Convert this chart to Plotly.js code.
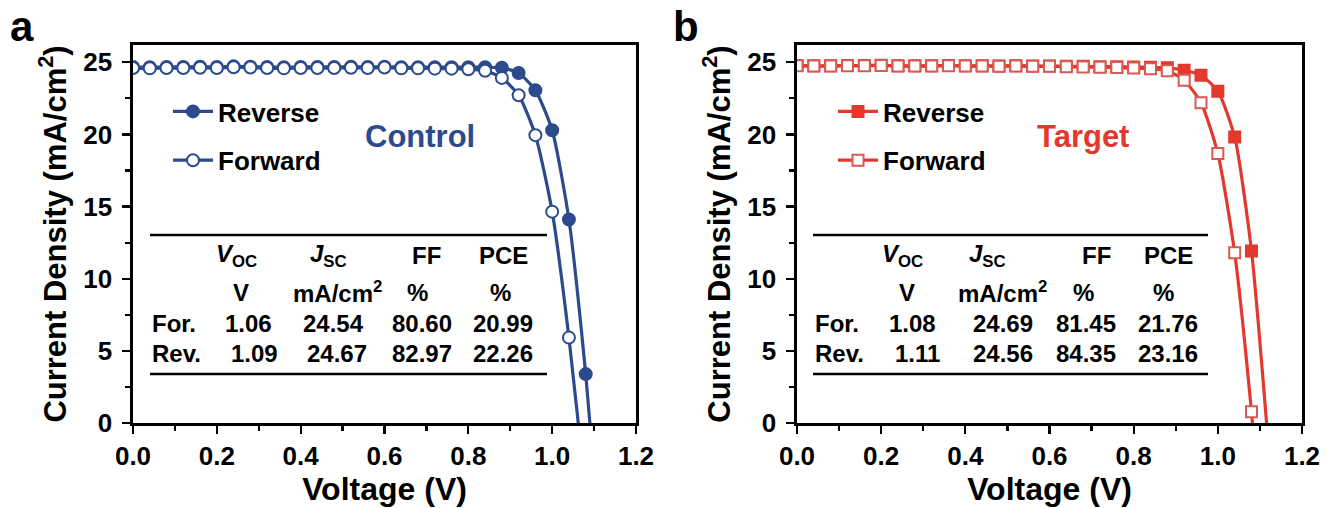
<!DOCTYPE html>
<html>
<head>
<meta charset="utf-8">
<script src="https://cdn.plot.ly/plotly-3.0.1.min.js"></script>
<style>html,body{margin:0;padding:0;background:#fff;}#chart{width:1333px;height:508px;}</style>
</head>
<body>
<div id="chart"></div>
<script>
// ---------- data ----------
const voltage = [0.00,0.04,0.08,0.12,0.16,0.20,0.24,0.28,0.32,0.36,0.40,0.44,0.48,0.52,0.56,0.60,0.64,0.68,0.72,0.76,0.80,0.84,0.88,0.92,0.96,1.00,1.04,1.08,1.12];
const controlReverse = [24.68,24.66,24.68,24.68,24.70,24.68,24.72,24.70,24.68,24.66,24.68,24.68,24.68,24.70,24.68,24.70,24.66,24.66,24.66,24.66,24.66,24.66,24.62,24.26,23.06,20.29,14.10,3.39,-10.2];
const controlForward = [24.60,24.58,24.60,24.60,24.62,24.60,24.66,24.64,24.60,24.58,24.60,24.60,24.60,24.62,24.60,24.64,24.58,24.58,24.56,24.56,24.52,24.42,23.92,22.72,19.95,14.65,5.92,-5.0,-18.0];
const targetReverse = [24.78,24.76,24.76,24.78,24.78,24.80,24.76,24.76,24.76,24.78,24.76,24.76,24.74,24.76,24.74,24.74,24.72,24.72,24.70,24.70,24.68,24.66,24.62,24.45,24.10,23.00,19.83,11.93,-1.5];
const targetForward = [24.76,24.74,24.74,24.76,24.76,24.78,24.74,24.74,24.74,24.76,24.74,24.74,24.72,24.74,24.72,24.72,24.70,24.68,24.66,24.64,24.60,24.55,24.42,23.75,22.20,18.68,11.80,0.78,-13.0];

const seriesNames = ["Reverse","Forward"];
const panelNames = ["Control","Target"];
const xTicks = [0.0,0.2,0.4,0.6,0.8,1.0,1.2];
const yTicks = [0,5,10,15,20,25];

const tableHeader = ["<i>V</i><sub>OC</sub>","<i>J</i><sub>SC</sub>","FF","PCE"];
const tableUnits = ["V","mA/cm<sup>2</sup>","%","%"];
const rowLabels = ["For.","Rev."];
const controlTable = [["1.06","24.54","80.60","20.99"],["1.09","24.67","82.97","22.26"]];
const targetTable = [["1.08","24.69","81.45","21.76"],["1.11","24.56","84.35","23.16"]];

// ---------- styles ----------
const BLUE = "#2b4b8c";
const RED = "#e2392f";
const RED_EDGE = "#d85a52";
const FONT = "Liberation Sans, Arial, sans-serif";
const W = 1333, H = 508;
const PX = x => x / W;
const PY = y => 1 - y / H;

function trace(y, name, color, edge, symbol, filled, xa, ya, legend, size) {
  return {
    x: voltage, y: y, name: name, type: "scatter", mode: "lines+markers",
    xaxis: xa, yaxis: ya, legend: legend,
    line: {color: color, width: 3.2, shape: "spline", smoothing: 0.6},
    marker: {symbol: symbol, size: size, color: filled ? color : "#ffffff",
             line: {color: edge, width: 2}},
    cliponaxis: true
  };
}

const data = [
  trace(controlReverse, seriesNames[0], BLUE, BLUE, "circle", true, "x", "y", "legend", 12),
  trace(controlForward, seriesNames[1], BLUE, BLUE, "circle", false, "x", "y", "legend", 12),
  trace(targetReverse, seriesNames[0], RED, RED, "square", true, "x2", "y2", "legend2", 11),
  trace(targetForward, seriesNames[1], RED, RED_EDGE, "square", false, "x2", "y2", "legend2", 11)
];
data[0].legendgroup = "a"; data[1].legendgroup = "b";
data[2].legendgroup = "c"; data[3].legendgroup = "d";

function xaxis(domain, anchor) {
  return {
    domain: domain, anchor: anchor, range: [0, 1.2], tickvals: xTicks,
    ticktext: xTicks.map(v => v.toFixed(1)),
    ticks: "outside", ticklen: 8, tickwidth: 2.2, tickcolor: "#000",
    minor: {dtick: 0.1, ticks: "outside", ticklen: 5, tickwidth: 2.2, tickcolor: "#000"},
    showline: true, linecolor: "#000", linewidth: 2.6, mirror: true,
    showgrid: false, zeroline: false,
    tickfont: {family: FONT, size: 26, color: "#000", weight: "bold"},
    title: {text: "<b>Voltage (V)</b>", font: {family: FONT, size: 32, color: "#000"}, standoff: 6},
    automargin: false, fixedrange: true
  };
}
function yaxis(domain, anchor) {
  return {
    domain: domain, anchor: anchor, range: [0, 26.2], tickvals: yTicks,
    ticks: "outside", ticklen: 8, tickwidth: 2.2, tickcolor: "#000",
    minor: {dtick: 2.5, ticks: "outside", ticklen: 5, tickwidth: 2.2, tickcolor: "#000"},
    showline: true, linecolor: "#000", linewidth: 2.6, mirror: true,
    showgrid: false, zeroline: false, ticklabelstandoff: 5,
    tickfont: {family: FONT, size: 26, color: "#000", weight: "bold"},
    title: {text: "<b>Current Density (mA/cm<sup>2</sup>)</b>", font: {family: FONT, size: 31, color: "#000"}, standoff: 8},
    automargin: false, fixedrange: true
  };
}

const yDom = [85 / H, 463 / H];
const legendFont = {family: FONT, size: 26, color: "#000", weight: "bold"};
const layout = {
  width: W, height: H,
  margin: {l: 0, r: 0, t: 0, b: 0},
  paper_bgcolor: "#fff", plot_bgcolor: "#fff",
  font: {family: FONT, color: "#000"},
  xaxis: xaxis([PX(133), PX(636)], "y"),
  yaxis: yaxis(yDom, "x"),
  xaxis2: xaxis([PX(797), PX(1302)], "y2"),
  yaxis2: yaxis(yDom, "x2"),
  legend: {x: PX(168), y: PY(88), xanchor: "left", yanchor: "top", bgcolor: "rgba(0,0,0,0)",
           font: legendFont, traceorder: "grouped", tracegroupgap: 12, itemwidth: 40},
  legend2: {x: PX(833), y: PY(88), xanchor: "left", yanchor: "top", bgcolor: "rgba(0,0,0,0)",
            font: legendFont, traceorder: "grouped", tracegroupgap: 12, itemwidth: 40},
  shapes: [],
  annotations: []
};

function addText(text, x, y, size, color, xanchor) {
  layout.annotations.push({
    text: text, x: PX(x), y: PY(y), xref: "paper", yref: "paper",
    xanchor: xanchor || "center", yanchor: "middle", showarrow: false,
    font: {family: FONT, size: size, color: color || "#000", weight: "bold"}
  });
}

// panel letters and labels
addText("a", 22, 26, 42);
addText("b", 686, 26, 42);
addText(panelNames[0], 420, 137, 31, BLUE);
addText(panelNames[1], 1083, 137, 31, RED);

// tables
function addTable(lineX, headerX, unitsX, valueX, table) {
  [235, 374].forEach(y => layout.shapes.push({
    type: "line", xref: "paper", yref: "paper",
    x0: PX(lineX[0]), x1: PX(lineX[1]), y0: PY(y), y1: PY(y),
    line: {color: "#000", width: 2.6}
  }));
  tableHeader.forEach((t, i) => addText(t, headerX[i], 255, 24));
  tableUnits.forEach((t, i) => addText(t, unitsX[i], 292, 24));
  rowLabels.forEach((lab, r) => {
    const y = r === 0 ? 323 : 353;
    addText(lab, lineX[0], y, 24, "#000", "left");
    table[r].forEach((v, i) => addText(v, valueX[r][i], y, 24));
  });
}
addTable([150, 547], [236, 328, 426, 503], [241, 338, 417, 500],
         [[248, 333, 422, 503], [254, 337, 422, 503]], controlTable);
addTable([813, 1208], [902, 987, 1096, 1168], [907, 1002, 1083, 1163],
         [[912, 1003, 1086, 1168], [917, 1003, 1086, 1168]], targetTable);

Plotly.newPlot("chart", data, layout, {displayModeBar: false, staticPlot: true});
</script>
</body>
</html>
